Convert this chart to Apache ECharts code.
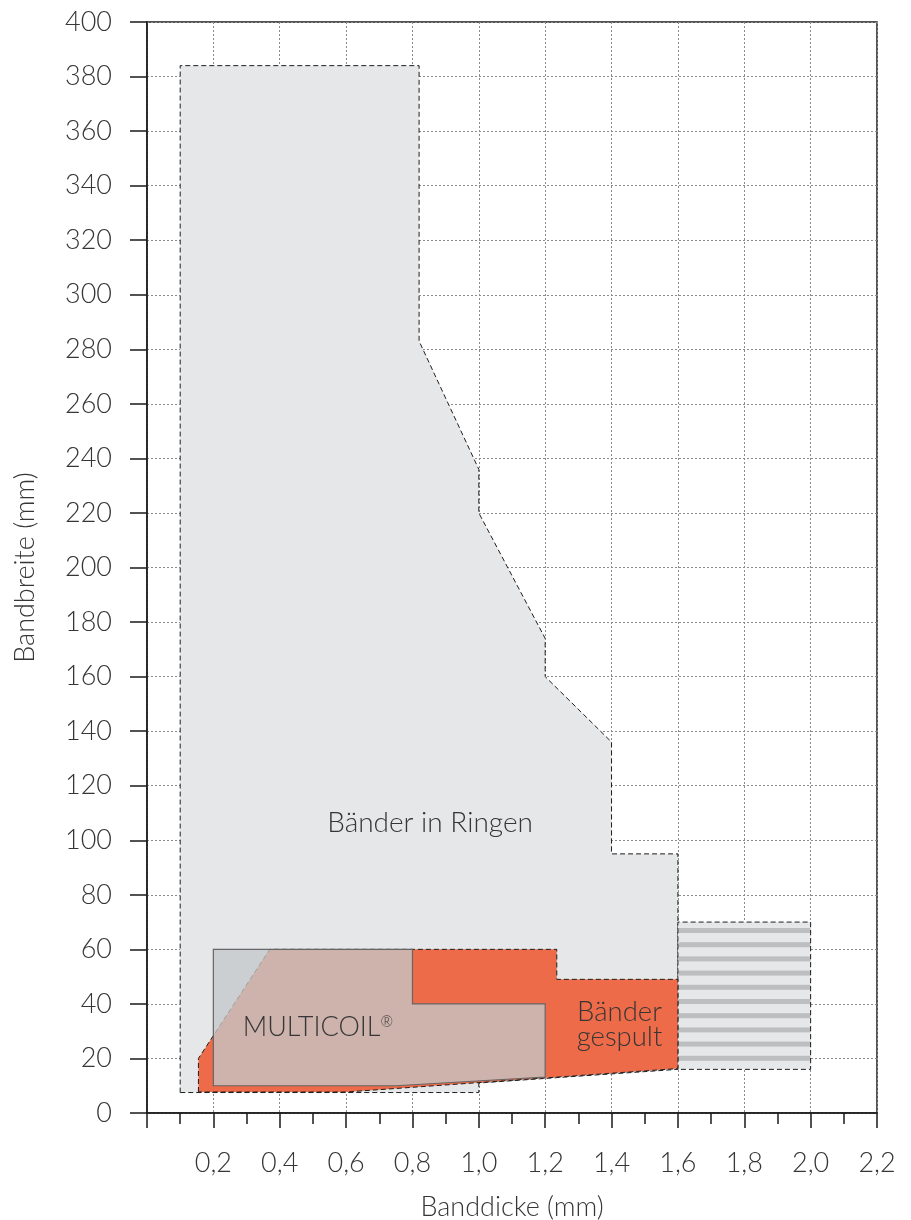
<!DOCTYPE html>
<html><head><meta charset="utf-8">
<script src="https://cdn.jsdelivr.net/npm/echarts@6/dist/echarts.min.js"></script>
<style>html,body{margin:0;padding:0;background:#fff}#c{width:911px;height:1220px}</style>
</head><body><div id="c"></div>
<script>
// Region outlines (Banddicke mm, Bandbreite mm)
const ringen = [[0.1,7.5],[0.1,384],[0.82,384],[0.82,283],[1.0,236],[1.0,220],[1.2,174],[1.2,160],[1.4,136],[1.4,95],[1.6,95],[1.6,16],[1.0,11],[1.0,7.5]];
const gestreift = [[1.6,16],[1.6,70],[2.0,70],[2.0,16]];
const gespult = [[0.155,7.7],[0.155,20],[0.37,60],[1.235,60],[1.235,49],[1.6,49],[1.6,16.3],[0.6,7.7]];
const multicoil = [[0.2,10],[0.2,60],[0.8,60],[0.8,40],[1.2,40],[1.2,13.2],[0.75,10]];
const regionLabels = [
  {text:'Bänder in Ringen', pos:[0.853,106.3], size:28},
  {text:'MULTICOIL{r|®}', pos:[0.515,31.5], size:27},
  {text:'Bänder\ngespult', pos:[1.424,32.3], size:27.5}
];
const xAxisName = 'Banddicke (mm)';
const yAxisName = 'Bandbreite (mm)';

const FONT = 'Lato';
const TXT = '#363636';

// stripe pattern tile (period ~14.2px)
const tile = document.createElement('canvas');
tile.width = 8; tile.height = 71;
const tc = tile.getContext('2d');
tc.fillStyle = '#e6e7e9'; tc.fillRect(0,0,8,71);
tc.fillStyle = '#bdbec0';
for (let i = 0; i < 5; i++) tc.fillRect(0, 5 + i*14.2, 8, 5);

function polySeries(data, style, z) {
  return {
    type: 'custom', z: z, silent: true,
    data: data,
    renderItem: function (params, api) {
      if (params.dataIndex !== 0) return;
      const pts = data.map(p => api.coord(p));
      return { type: 'polygon', shape: { points: pts }, style: style };
    }
  };
}

const chart = echarts.init(document.getElementById('c'), null, {renderer:'canvas'});
chart.setOption({
  animation: false,
  grid: { left: 147, right: 34, top: 22, bottom: 107, containLabel: false, outerBoundsMode: 'none',
    show: true, borderColor: '#1a1a1a', borderWidth: 1.5, backgroundColor: 'transparent' },
  xAxis: {
    type: 'value', min: 0, max: 2.2, interval: 0.2,
    name: xAxisName, nameLocation: 'middle', nameGap: 81,
    nameTextStyle: { fontFamily: FONT, fontSize: 27, color: TXT, fontWeight: 300 },
    axisLine: { show: true, onZero: false, lineStyle: { color: '#1a1a1a', width: 1.5 } },
    axisTick: { show: true, length: 15, lineStyle: { color: '#1a1a1a', width: 1.5 } },
    minorTick: { show: true, splitNumber: 2, length: 11, lineStyle: { color: '#1a1a1a', width: 1.5 } },
    axisLabel: { margin: 37, fontFamily: FONT, fontSize: 27, color: TXT, fontWeight: 300,
      formatter: v => v < 0.01 ? '' : v.toFixed(1).replace('.', ',') },
    splitLine: { show: true, lineStyle: { color: '#8a8a8a', width: 1, type: [2,2] } }
  },
  yAxis: {
    type: 'value', min: 0, max: 400, interval: 20,
    name: yAxisName, nameLocation: 'middle', nameGap: 108, nameRotate: 90,
    nameTextStyle: { fontFamily: FONT, fontSize: 27, color: TXT, fontWeight: 300 },
    axisLine: { show: true, lineStyle: { color: '#1a1a1a', width: 1.5 } },
    axisTick: { show: true, length: 17, lineStyle: { color: '#1a1a1a', width: 1.5 } },
    axisLabel: { margin: 35, fontFamily: FONT, fontSize: 27, color: TXT, fontWeight: 300 },
    splitLine: { show: true, lineStyle: { color: '#8a8a8a', width: 1, type: [2,2] } }
  },
  series: [
    polySeries(ringen, { fill: '#e6e7e9', stroke: '#1e1e1e', lineWidth: 1, lineDash: [5,3] }, 2),
    polySeries(gestreift, { fill: { image: tile, repeat: 'repeat' }, stroke: '#1e1e1e', lineWidth: 1, lineDash: [5,3] }, 3),
    polySeries(gespult, { fill: '#ed6b49', stroke: '#1e1e1e', lineWidth: 1, lineDash: [5,3] }, 4),
    polySeries(multicoil, { fill: 'rgba(197,199,202,0.77)', stroke: '#666', lineWidth: 1.2 }, 5),
    {
      type: 'custom', z: 6, silent: true,
      data: regionLabels.map(l => l.pos),
      renderItem: function (params, api) {
        const l = regionLabels[params.dataIndex];
        const p = api.coord(l.pos);
        return { type: 'text', x: p[0], y: p[1], style: {
          text: l.text, align: 'center', verticalAlign: 'middle',
          fontFamily: FONT, fontSize: l.size, fontWeight: 300, fill: TXT, lineHeight: 25,
          rich: { r: { fontFamily: FONT, fontSize: 15, fontWeight: 300, fill: TXT, verticalAlign: 'top', padding: [0,0,12,0] } } } };
      }
    }
  ]
});
</script></body></html>
